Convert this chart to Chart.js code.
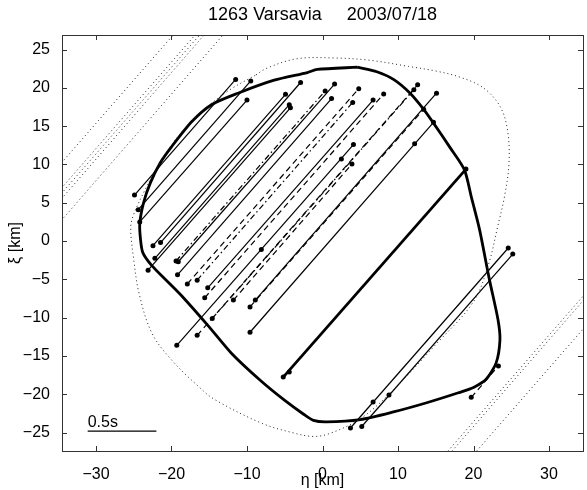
<!DOCTYPE html>
<html>
<head>
<meta charset="utf-8">
<script src="https://cdn.jsdelivr.net/npm/chart.js@4.4.1/dist/chart.umd.min.js"></script>
<style>
  html, body { margin: 0; padding: 0; background: #fff; }
</style>
</head>
<body>
<canvas id="chart" width="587" height="490"></canvas>
<script>
const chartTitle = "1263 Varsavia     2003/07/18";
const etaTicks = [-30, -20, -10, 0, 10, 20, 30];
const xiTicks = [-25, -20, -15, -10, -5, 0, 5, 10, 15, 20, 25];

/* ===== CHORDS (eta, xi in km) ===== */
const chordEta1 = [-24.9, -24.4, -24.2, -22.45, -21.45, -22.2, -23.1, -19.4, -19.1, -19.2, -17.9, -16.6, -15.2,
  -15.6, -19.3, -16.6, -14.6, -11.8, -8.9, -9.6, -9.6, -5.2, 3.7, 5.2, 19.7];
const chordXi1 = [6.0, 4.1, 2.5, -0.6, -0.2, -2.25, -3.8, -2.6, -2.7, -4.4, -5.6, -5.1, -6.1,
  -7.4, -13.6, -12.3, -10.1, -7.7, -7.7, -8.6, -11.9, -17.75, -24.4, -24.2, -20.4];
const chordEta2 = [-11.5, -9.5, -10.0, -4.9, -2.9, -4.4, -4.25, 0.35, 1.6, 1.2, 4.8, 4.0, 6.7,
  8.1, 4.1, 12.6, 12.1, 3.9, 15.1, 13.4, 14.7, 19.0, 24.6, 25.2, 23.3];
const chordXi2 = [21.1, 20.9, 18.4, 19.15, 20.7, 17.8, 17.4, 19.6, 20.5, 18.6, 19.9, 18.1, 18.4,
  19.2, 12.6, 20.4, 19.75, 10.05, 19.3, 17.2, 15.5, 9.4, -0.9, -1.7, -16.3];
const chordStyle = ["solid", "solid", "solid", "solid", "solid", "solid", "solid", "dashdot", "solid", "solid",
  "dash", "dashdot", "solid", "dash", "solid", "dash", "dashdot", "dash", "solid", "dash", "solid", "thick",
  "solid", "solid", "dash"];

// timing marks inside chords
const midDotEta = [-4.4, -8.1, 2.5, 12.2, 6.7, 8.8];
const midDotXi = [-17.1, -1.1, 10.7, 12.7, -21.0, -20.1];

/* ===== PROFILES ===== */
const profileEta = [4.6, -0.7, -2.0, -6.4, -11.2, -14.7, -17.3, -20.0, -21.5, -22.8, -23.7, -24.2, -24.1, -23.8,
  -22.6, -20.5, -18.6, -15.1, -12.1, -8.1, -5.0, -2.5, -1.2, 0.5, 5.0, 9.4, 13.8, 18.0, 20.0, 21.7, 23.0,
  23.5, 23.25, 22.1, 20.8, 19.7, 18.8, 16.9, 14.7, 13.4, 11.6, 9.4, 7.2, 4.6];
const profileXi = [22.7, 22.4, 22.0, 21.0, 19.3, 17.8, 15.6, 12.3, 10.2, 7.6, 5.0, 2.3, 0.2, -1.5,
  -3.2, -5.3, -7.2, -11.1, -14.6, -18.3, -20.8, -22.6, -23.4, -23.6, -23.3, -22.3, -21.1, -19.8, -19.1, -18.0, -15.9,
  -12.9, -10.3, -5.0, 1.5, 5.8, 9.3, 12.2, 15.4, 17.2, 19.3, 21.1, 22.1, 22.7];

const outerEta = [-8.8, -7.3, -3.4, 1.6, 6.3, 11.4, 15.0, 18.2, 21.3, 23.5, 24.5, 24.7, 24.1, 23.2, 22.0, 20.0,
  15.0, 9.0, 5.0, 1.0, -1.2, -4.0, -8.0, -14.25, -16.4, -20.0, -22.6, -24.3, -25.0, -25.4, -25.0, -23.6,
  -21.8, -19.5, -16.5, -12.5, -8.8];
const outerXi = [21.7, 22.6, 23.8, 23.9, 23.6, 22.8, 22.2, 21.4, 20.0, 17.6, 14.5, 10.2, 5.8, 1.9, -3.0, -7.9,
  -13.5, -19.8, -23.2, -25.1, -25.5, -25.0, -23.8, -20.7, -19.0, -15.5, -12.0, -6.8, -2.4, 1.7, 3.5, 6.5,
  9.8, 13.2, 16.5, 19.6, 21.7];

/* ===== NEGATIVE CHORDS (dotted) ===== */
const missEta1 = [-36, -36, -36, -36, -36, 15.2, 15.75, 19.0];
const missXi1 = [8.6, 5.3, 4.6, 3.9, 1.1, -29, -29, -29];
const missEta2 = [-18.8, -15.9, -15.3, -14.7, -12.2, 36, 36, 36];
const missXi2 = [28, 28, 28, 28, 28, -5.5, -6.1, -9.8];

/* ===== SCALE BAR ===== */
const scaleBarEta = [-31.1, -22.0];
const scaleBarXi = [-24.8, -24.8];
const scaleBarLabel = "0.5s";

const FONT = '"Liberation Sans", Arial, Helvetica, sans-serif';
const dashes = { solid: [], dash: [6, 4], dashdot: [6, 3, 1.5, 3], thick: [] };
const pts = (xs, ys) => xs.map((v, i) => ({ x: v, y: ys[i] }));
const minus = v => String(v).replace("-", "\u2212");

const datasets = [];

datasets.push({
  data: pts(outerEta, outerXi), showLine: true, tension: 0.35,
  borderColor: "#222", borderWidth: 1, borderDash: [1, 3], pointRadius: 0
});

missEta1.forEach((e, i) => {
  datasets.push({
    data: [{ x: e, y: missXi1[i] }, { x: missEta2[i], y: missXi2[i] }], showLine: true, clip: 0,
    borderColor: "#222", borderWidth: 1, borderDash: [1, 3], pointRadius: 0
  });
});

chordEta1.forEach((e, i) => {
  const st = chordStyle[i];
  datasets.push({
    data: [{ x: e, y: chordXi1[i] }, { x: chordEta2[i], y: chordXi2[i] }], showLine: true,
    borderColor: "#000", borderWidth: st === "thick" ? 2.8 : 1.2, borderDash: dashes[st], pointRadius: 0
  });
});

datasets.push({
  data: pts(profileEta, profileXi), showLine: true, tension: 0.25,
  borderColor: "#000", borderWidth: 2.8, pointRadius: 0
});

datasets.push({
  data: pts(chordEta1, chordXi1).concat(pts(chordEta2, chordXi2), pts(midDotEta, midDotXi)),
  showLine: false, pointRadius: 2.5, pointBackgroundColor: "#000", pointBorderWidth: 0
});

datasets.push({
  data: pts(scaleBarEta, scaleBarXi), showLine: true,
  borderColor: "#000", borderWidth: 1.3, pointRadius: 0
});

const frame = {
  id: "frame",
  afterDraw(chart) {
    const { ctx, chartArea: a, scales: { x, y } } = chart;
    ctx.save();
    ctx.strokeStyle = "#333";
    ctx.lineWidth = 1;
    ctx.strokeRect(a.left + 0.5, a.top + 0.5, a.right - a.left, a.bottom - a.top);
    ctx.beginPath();
    etaTicks.forEach(v => {
      const px = Math.round(x.getPixelForValue(v)) + 0.5;
      ctx.moveTo(px, a.bottom); ctx.lineTo(px, a.bottom - 5);
      ctx.moveTo(px, a.top); ctx.lineTo(px, a.top + 5);
    });
    xiTicks.forEach(v => {
      const py = Math.round(y.getPixelForValue(v)) + 0.5;
      ctx.moveTo(a.left, py); ctx.lineTo(a.left + 5, py);
      ctx.moveTo(a.right, py); ctx.lineTo(a.right - 5, py);
    });
    ctx.stroke();

    ctx.fillStyle = "#000";
    ctx.font = "18px " + FONT;
    ctx.textAlign = "center";
    ctx.textBaseline = "middle";
    ctx.fillText(chartTitle, (a.left + a.right) / 2, 15);

    ctx.font = "16px " + FONT;
    ctx.textAlign = "left";
    ctx.textBaseline = "alphabetic";
    ctx.fillText(scaleBarLabel, x.getPixelForValue(scaleBarEta[0]), y.getPixelForValue(scaleBarXi[0]) - 4);
    ctx.restore();
  }
};

new Chart(document.getElementById("chart"), {
  type: "scatter",
  data: { datasets },
  options: {
    responsive: false,
    animation: false,
    layout: { padding: { top: 35, right: 0, left: 0, bottom: 0 } },
    plugins: { legend: { display: false }, tooltip: { enabled: false } },
    scales: {
      x: {
        type: "linear", min: -34.5, max: 34.5,
        grid: { display: false }, border: { display: false },
        afterBuildTicks: s => { s.ticks = etaTicks.map(v => ({ value: v })); },
        afterFit: s => { s.height = 39; },
        ticks: { color: "#000", font: { family: FONT, size: 16 }, padding: 6, maxRotation: 0, callback: minus },
        title: { display: true, text: "η [km]", color: "#000", font: { family: FONT, size: 16 }, padding: { top: 0, bottom: 0 } }
      },
      y: {
        type: "linear", min: -27.4, max: 26.9,
        grid: { display: false }, border: { display: false },
        afterBuildTicks: s => { s.ticks = xiTicks.map(v => ({ value: v })); },
        afterFit: s => { s.width = 62; },
        ticks: { color: "#000", font: { family: FONT, size: 16 }, padding: 4, callback: minus },
        title: { display: true, text: "ξ [km]", color: "#000", font: { family: FONT, size: 16 }, padding: { top: 6, bottom: 0 } }
      }
    }
  },
  plugins: [frame]
});
</script>
</body>
</html>
